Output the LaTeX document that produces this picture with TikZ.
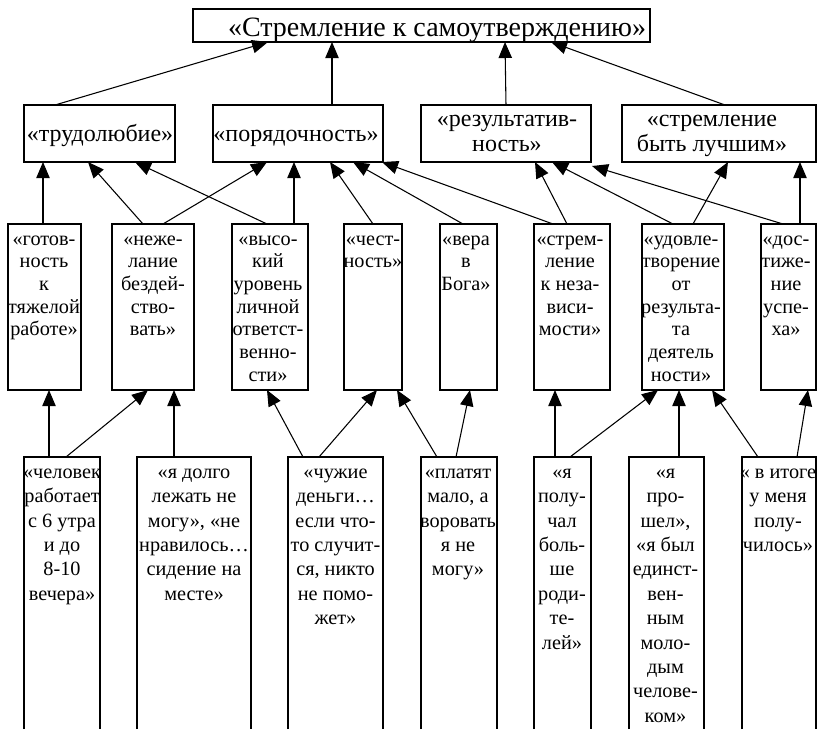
\documentclass[tikz,border=0pt]{standalone}
\usepackage{fontspec}
\setmainfont{Liberation Serif}
\usetikzlibrary{arrows.meta,fit,calc}

\begin{document}
\begin{tikzpicture}[x=0.75pt,y=-0.75pt,
  box/.style={draw,line width=1.5pt,inner sep=0pt,outer sep=0pt},
  openbox/.style={inner sep=0pt,outer sep=0pt},
  boxline/.style={line width=1.5pt},
  arr/.style={-{Triangle[length=12pt,width=10pt]},line width=0.8pt},
  ttop/.style={font=\fontsize{21pt}{24pt}\selectfont,inner sep=0pt,anchor=base},
  ttwo/.style={font=\fontsize{18pt}{18.75pt}\selectfont,inner sep=0pt,align=center},
  tthree/.style={font=\fontsize{15.2pt}{17pt}\selectfont,inner sep=0pt,align=center,anchor=north},
  tfour/.style={font=\fontsize{15.2pt}{18.3pt}\selectfont,inner sep=0pt,align=center,anchor=north}]

\fill[white] (0,0) rectangle (818,729);
\useasboundingbox (0,0) rectangle (818,729);

% top
\node[box,fit={(193,9)(650,42)}] (T) {};
\node[ttop] (tT) at (437,36) {«Стремление к самоутверждению»};

% level 2
\node[box,fit={(24,105)(175,162)}] (trud) {};
\node[box,fit={(213,105)(383,162)}] (por) {};
\node[box,fit={(421,105)(591,162)}] (rez) {};
\node[box,fit={(622,105)(816,162)}] (luch) {};
\node[ttwo,anchor=base] (ttrud) at (100,141.5) {«трудолюбие»};
\node[ttwo,anchor=base] (tpor) at (296,141.5) {«порядочность»};
\node[ttwo,anchor=north] (trez) at (507,109.2) {\strut«результатив-\\ность»};
\node[ttwo,anchor=north] (tluch) at (712,109.2) {\strut«стремление\\быть лучшим»};

% level 3
\node[box,fit={(8,224)(81,390)}] (g) {};
\node[box,fit={(112,224)(194,390)}] (n) {};
\node[box,fit={(232,224)(308,390)}] (v) {};
\node[box,fit={(344,224)(402,390)}] (c) {};
\node[box,fit={(440,224)(497,390)}] (b) {};
\node[box,fit={(534,224)(610,390)}] (s) {};
\node[box,fit={(642,224)(724,390)}] (u) {};
\node[box,fit={(761,224)(816,390)}] (d) {};
\node[tthree] (tg) at (44,229.1) {\strut«готов-\\ность\\к\\тяжелой\\работе»};
\node[tthree] (tn) at (153,229.1) {\strut«неже-\\лание\\бездей-\\ство-\\вать»};
\node[tthree] (tv) at (268,229.1) {\strut«высо-\\кий\\уровень\\личной\\ответст-\\венно-\\сти»};
\node[tthree] (tc) at (373,229.1) {\strut«чест-\\ность»};
\node[tthree] (tb) at (466,229.1) {\strut«вера\\в\\Бога»};
\node[tthree] (ts) at (570,229.1) {\strut«стрем-\\ление\\к неза-\\виси-\\мости»};
\node[tthree] (tu) at (681,229.1) {\strut«удовле-\\творение\\от\\результа-\\та\\деятель\\ности»};
\node[tthree] (td) at (786,229.1) {\strut«дос-\\тиже-\\ние\\успе-\\ха»};

% level 4 (open at the bottom)
\node[openbox,fit={(24,457)(100,729)}] (h) {};
\node[openbox,fit={(137,457)(251,729)}] (y) {};
\node[openbox,fit={(288,457)(383,729)}] (z) {};
\node[openbox,fit={(421,457)(497,729)}] (p) {};
\node[openbox,fit={(534,457)(591,729)}] (q) {};
\node[openbox,fit={(629,457)(704,729)}] (r) {};
\node[openbox,fit={(742,457)(816,729)}] (i) {};
\foreach \k in {h,y,z,p,q,r,i}
  \draw[boxline] (\k.south west) |- (\k.north east) -- (\k.south east);
\node[tfour] (th) at (62,461) {\strut«человек\\работает\\с 6 утра\\и до\\8-10\\вечера»};
\node[tfour] (ty) at (194,461) {\strut«я долго\\лежать не\\могу», «не\\нравилось…\\сидение на\\месте»};
\node[tfour] (tz) at (335.5,461) {\strut«чужие\\деньги…\\если что-\\то случит-\\ся, никто\\не помо-\\жет»};
\node[tfour] (tp) at (458,461) {\strut«платят\\мало, а\\воровать\\я не\\могу»};
\node[tfour] (tq) at (562,461) {\strut«я\\полу-\\чал\\боль-\\ше\\роди-\\те-\\лей»};
\node[tfour] (tr) at (665.5,461) {\strut«я\\про-\\шел»,\\«я был\\единст-\\вен-\\ным\\моло-\\дым\\челове-\\ком»};
\node[tfour] (ti) at (778,461) {\strut« в итоге\\у меня\\полу-\\чилось»};

% level 2 -> top
\draw[arr] ($(trud.north west)+(31,0)$) -- ($(T.south west)+(75,0)$);
\draw[arr] ($(por.north west)+(119,0)$) -- ($(T.south west)+(139,0)$);
\draw[arr] ($(rez.north west)+(85,0)$) -- ($(T.south west)+(312,0)$);
\draw[arr] ($(luch.north west)+(103,0)$) -- ($(T.south west)+(358,0)$);

% level 3 -> level 2
\draw[arr] ($(g.north west)+(35,0)$) -- ($(trud.south west)+(19,0)$);
\draw[arr] ($(n.north west)+(31,0)$) -- ($(trud.south west)+(64,0)$);
\draw[arr] ($(v.north west)+(35,0)$) -- ($(trud.south west)+(111,0)$);
\draw[arr] ($(n.north west)+(51,0)$) -- ($(por.south west)+(54,0)$);
\draw[arr] ($(v.north west)+(62,0)$) -- ($(por.south west)+(81,0)$);
\draw[arr] ($(c.north west)+(29,0)$) -- ($(por.south west)+(117,0)$);
\draw[arr] ($(b.north west)+(23,0)$) -- ($(por.south west)+(140,0)$);
\draw[arr] ($(s.north west)+(19,0)$) -- ($(por.south west)+(169,0)$);
\draw[arr] ($(s.north west)+(33,0)$) -- ($(rez.south west)+(114,0)$);
\draw[arr] ($(u.north west)+(31,0)$) -- ($(rez.south west)+(131,0)$);
\draw[arr] ($(d.north west)+(22,0)$) -- ($(rez.south east)+(1,4)$);
\draw[arr] ($(u.north west)+(51,0)$) -- ($(luch.south west)+(106,0)$);
\draw[arr] ($(d.north west)+(39,0)$) -- ($(luch.south west)+(178,0)$);

% level 4 -> level 3
\draw[arr] ($(h.north west)+(25,0)$) -- ($(g.south west)+(41,0)$);
\draw[arr] ($(h.north west)+(42,0)$) -- ($(n.south west)+(36,0)$);
\draw[arr] ($(y.north west)+(37,0)$) -- ($(n.south west)+(62,0)$);
\draw[arr] ($(z.north west)+(15,0)$) -- ($(v.south west)+(35,0)$);
\draw[arr] ($(z.north west)+(31,0)$) -- ($(c.south west)+(33,0)$);
\draw[arr] ($(p.north west)+(16,0)$) -- ($(c.south west)+(53,0)$);
\draw[arr] ($(p.north west)+(35,0)$) -- ($(b.south west)+(30,0)$);
\draw[arr] ($(q.north west)+(21,0)$) -- ($(s.south west)+(21,0)$);
\draw[arr] ($(q.north west)+(36,0)$) -- ($(u.south west)+(16,0)$);
\draw[arr] ($(r.north west)+(50,0)$) -- ($(u.south west)+(37,0)$);
\draw[arr] ($(i.north west)+(16,0)$) -- ($(u.south west)+(70,0)$);
\draw[arr] ($(i.north west)+(55,0)$) -- ($(d.south west)+(47,0)$);
\end{tikzpicture}
\end{document}
